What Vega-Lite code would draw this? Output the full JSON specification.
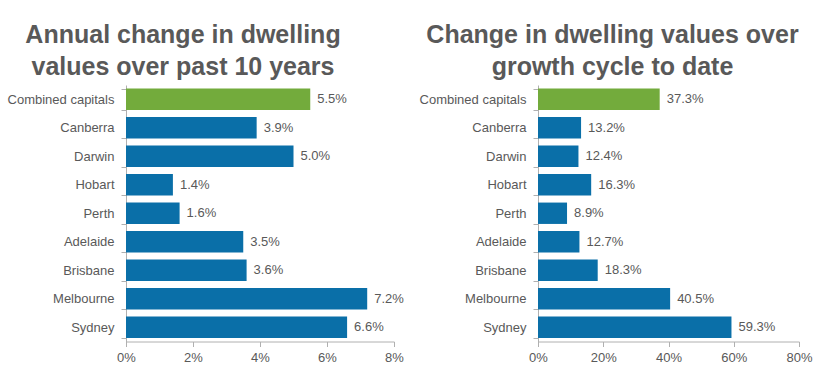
{
  "$schema": "https://vega.github.io/schema/vega-lite/v6.json",
  "padding": {"left": 7, "top": 23, "right": 5, "bottom": 5},
  "background": "white",
  "config": {
    "font": "Liberation Sans",
    "view": {"stroke": null},
    "axis": {
      "labelFont": "Liberation Sans",
      "labelFontSize": 13,
      "labelColor": "#595959",
      "domainColor": "#b0b0b0",
      "tickColor": "#b0b0b0",
      "tickSize": 5,
      "grid": false,
      "title": null
    },
    "title": {
      "font": "Liberation Sans",
      "fontSize": 25,
      "fontWeight": "bold",
      "color": "#595959",
      "lineHeight": 32,
      "anchor": "middle",
      "baseline": "alphabetic",
      "offset": -1
    }
  },
  "bounds": "flush",
  "spacing": 144,
  "hconcat": [
    {
      "title": {"text": ["Annual change in dwelling", "values over past 10 years"], "dx": -77},
      "width": 268,
      "height": 256.5,
      "data": {"values": [
        {"city": "Combined capitals", "value": 0.055},
        {"city": "Canberra", "value": 0.039},
        {"city": "Darwin", "value": 0.050},
        {"city": "Hobart", "value": 0.014},
        {"city": "Perth", "value": 0.016},
        {"city": "Adelaide", "value": 0.035},
        {"city": "Brisbane", "value": 0.036},
        {"city": "Melbourne", "value": 0.072},
        {"city": "Sydney", "value": 0.066}
      ]},
      "encoding": {
        "y": {"field": "city", "type": "nominal", "sort": null,
              "scale": {"paddingInner": 0.25, "paddingOuter": 0.125},
              "axis": {"tickBand": "extent", "labelPadding": 7}},
        "x": {"field": "value", "type": "quantitative",
              "scale": {"domain": [0, 0.08], "nice": false},
              "axis": {"values": [0, 0.02, 0.04, 0.06, 0.08], "format": ".0%", "labelPadding": 5, "labelFlush": false}}
      },
      "layer": [
        {"mark": {"type": "bar"},
         "encoding": {"color": {"condition": {"test": "datum.city === 'Combined capitals'", "value": "#73ab3c"}, "value": "#0a6fa8"}}},
        {"mark": {"type": "text", "align": "left", "dx": 7, "fontSize": 13, "color": "#595959"},
         "encoding": {"text": {"field": "value", "type": "quantitative", "format": ".1%"}}}
      ]
    },
    {
      "title": {"text": ["Change in dwelling values over", "growth cycle to date"], "dx": -56},
      "width": 261,
      "height": 256.5,
      "data": {"values": [
        {"city": "Combined capitals", "value": 0.373},
        {"city": "Canberra", "value": 0.132},
        {"city": "Darwin", "value": 0.124},
        {"city": "Hobart", "value": 0.163},
        {"city": "Perth", "value": 0.089},
        {"city": "Adelaide", "value": 0.127},
        {"city": "Brisbane", "value": 0.183},
        {"city": "Melbourne", "value": 0.405},
        {"city": "Sydney", "value": 0.593}
      ]},
      "encoding": {
        "y": {"field": "city", "type": "nominal", "sort": null,
              "scale": {"paddingInner": 0.25, "paddingOuter": 0.125},
              "axis": {"tickBand": "extent", "labelPadding": 7}},
        "x": {"field": "value", "type": "quantitative",
              "scale": {"domain": [0, 0.8], "nice": false},
              "axis": {"values": [0, 0.2, 0.4, 0.6, 0.8], "format": ".0%", "labelPadding": 5, "labelFlush": false}}
      },
      "layer": [
        {"mark": {"type": "bar"},
         "encoding": {"color": {"condition": {"test": "datum.city === 'Combined capitals'", "value": "#73ab3c"}, "value": "#0a6fa8"}}},
        {"mark": {"type": "text", "align": "left", "dx": 7, "fontSize": 13, "color": "#595959"},
         "encoding": {"text": {"field": "value", "type": "quantitative", "format": ".1%"}}}
      ]
    }
  ]
}
